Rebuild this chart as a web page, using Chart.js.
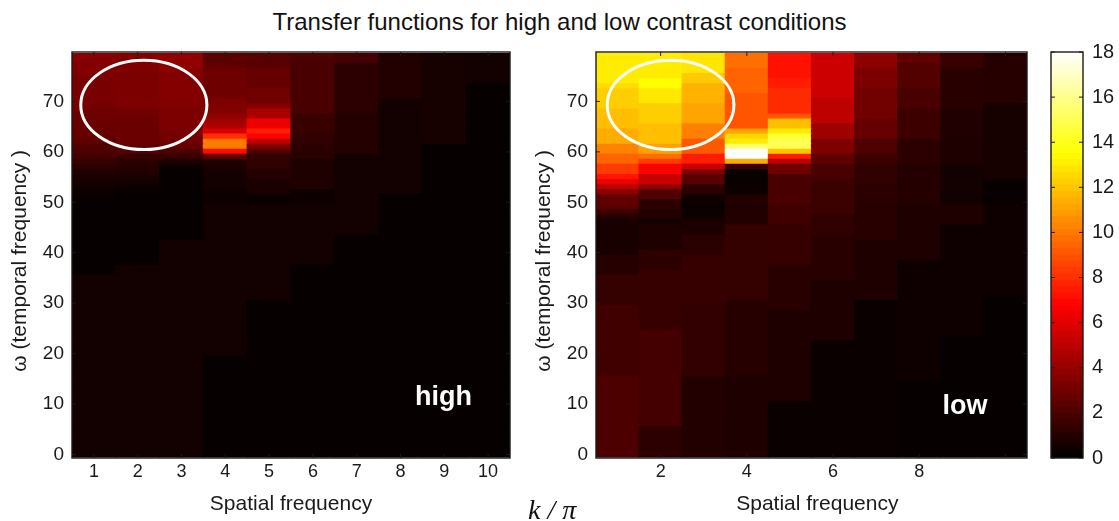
<!DOCTYPE html>
<html>
<head>
<meta charset="utf-8">
<title>Transfer functions</title>
<script src="https://cdn.jsdelivr.net/npm/chart.js@4"></script>
<style>
  body { margin: 0; background: #fff; overflow: hidden; width: 1119px; height: 521px; position: relative; }
  canvas { position: absolute; top: 0; }
  #titulo { position: absolute; top: 8px; left: 0; width: 1119px; text-align: center; font: 24px "Liberation Sans", sans-serif; color: #111; }
  #kpi { position: absolute; left: 528px; top: 494px; font: italic 28px "Liberation Serif", serif; color: #111; }
</style>
</head>
<body>
<div id="titulo">Transfer functions for high and low contrast conditions</div>
<canvas id="alto" width="525" height="521" style="left:0"></canvas>
<canvas id="bajo" width="512" height="521" style="left:525px"></canvas>
<canvas id="barra" width="82" height="521" style="left:1037px"></canvas>
<div id="kpi">k / π</div>
<script>
const categorias = ['1', '2', '3', '4', '5', '6', '7', '8', '9', '10'];
const ticksOmega = [0, 10, 20, 30, 40, 50, 60, 70];
const ticksBarra = [0, 2, 4, 6, 8, 10, 12, 14, 16, 18];
const ticksAltoX = [0, 1, 2, 3, 4, 5, 6, 7, 8, 9];
const etiquetasBajoX = [1, 3, 5, 7];
const ticksBajoX = [1, 3, 5, 7, 9];

// valores por columna, de omega 0 a omega 79 (un grupo por decena)
const alto1 = [.5,.5,.5,.5,.5,.5,.5,.5,.5,.5, .5,.5,.5,.5,.5,.5,.5,.5,.5,.5, .5,.5,.5,.5,.5,.5,.5,.5,.5,.5, .5,.5,.5,.5,.5,.5,.15,.15,.15,.15, .15,.15,.15,.15,.15,.15,.15,.15,.15,.15, .2,.3,.4,.5,.6,.7,.9,1.2,1.5,1.8, 2,2.2,2.5,2.7,2.7,2.8,2.8,2.9,2.9,3.1, 3.2,3.2,3.2,3.2,3.2,3.3,3.5,3.5,3.5,3.6];
const alto2 = [.5,.5,.5,.5,.5,.5,.5,.5,.5,.5, .5,.5,.5,.5,.5,.5,.5,.5,.5,.5, .5,.5,.5,.5,.5,.5,.5,.5,.5,.5, .5,.5,.5,.5,.5,.5,.5,.5,.15,.15, .15,.15,.15,.15,.15,.15,.15,.15,.15,.15, .15,.15,.2,.4,.5,.7,.9,1,1.2,1.5, 2.3,2.6,2.8,2.8,2.8,2.8,2.8,2.9,3,3.3, 3.3,3.3,3.3,3.3,3.3,3.3,3.4,3.4,3.4,3.5];
const alto3 = [.5,.5,.5,.5,.5,.5,.5,.5,.5,.5, .5,.5,.5,.5,.5,.5,.5,.5,.5,.5, .5,.5,.5,.5,.5,.5,.5,.5,.5,.5, .5,.5,.5,.5,.5,.5,.5,.5,.5,.5, .5,.5,.5,.15,.15,.15,.15,.15,.15,.15, .15,.15,.15,.15,.15,.15,.15,.4,.8,1.5, 2,2.7,2.9,3.1,3.2,3.3,3.3,3.3,3.3,3.4, 3.5,3.5,3.5,3.5,3.5,3.5,3.6,3.8,3.8,3.8];
const alto4 = [.15,.15,.15,.15,.15,.15,.15,.15,.15,.15, .15,.15,.15,.15,.15,.15,.15,.15,.15,.15, .5,.5,.5,.5,.5,.5,.5,.5,.5,.5, .5,.5,.5,.5,.5,.5,.5,.5,.5,.5, .5,.5,.5,.5,.5,.5,.5,.5,.5,.5, .4,.4,.4,.5,.5,.5,.6,.7,.9,2.6, 7,10,10,8,5.8,4.6,4.2,3.8,3.4,3.4, 3.3,3,2.9,2.9,2.9,2.9,2.8,2.6,2.4,2.4];
const alto5 = [.15,.15,.15,.15,.15,.15,.15,.15,.15,.15, .15,.15,.15,.15,.15,.15,.15,.15,.15,.15, .15,.15,.15,.15,.15,.15,.15,.15,.15,.15, .15,.5,.5,.5,.5,.5,.5,.5,.5,.5, .5,.5,.5,.5,.5,.5,.5,.5,.5,.5, .3,.3,.7,.7,.7,.95,.95,1.3,1.3,1.3, 2.1,3.4,5,6.8,7.5,6.3,6.3,4.5,4.5,3.5, 3,3,3,2.7,2.7,2.7,2.7,2.3,2.3,2.3];
const alto6 = [.15,.15,.15,.15,.15,.15,.15,.15,.15,.15, .15,.15,.15,.15,.15,.15,.15,.15,.15,.15, .15,.15,.15,.15,.15,.15,.15,.15,.15,.15, .15,.15,.15,.15,.15,.15,.15,.15,.5,.5, .5,.5,.5,.5,.5,.5,.5,.5,.5,.5, .4,.4,.4,.8,.8,.8,.8,.8,.8,1.1, 1.1,1.1,1.3,1.3,1.5,1.5,1.5,1.5,1.9,1.9, 1.9,1.9,1.9,1.9,1.9,1.9,1.9,1.9,1.9,2.1];
const alto7 = [.15,.15,.15,.15,.15,.15,.15,.15,.15,.15, .15,.15,.15,.15,.15,.15,.15,.15,.15,.15, .15,.15,.15,.15,.15,.15,.15,.15,.15,.15, .15,.15,.15,.15,.15,.15,.15,.15,.15,.15, .15,.15,.15,.15,.5,.5,.5,.5,.5,.5, .5,.5,.5,.5,.5,.5,.5,.5,.5,.5, .95,.95,.95,.95,.95,.95,.95,.95,1.2,1.2, 1.2,1.2,1.2,1.2,1.2,1.2,1.2,1.2,1.8,1.8];
const alto8 = [.15,.15,.15,.15,.15,.15,.15,.15,.15,.15, .15,.15,.15,.15,.15,.15,.15,.15,.15,.15, .15,.15,.15,.15,.15,.15,.15,.15,.15,.15, .15,.15,.15,.15,.15,.15,.15,.15,.15,.15, .15,.15,.15,.15,.15,.15,.15,.15,.15,.15, .15,.15,.5,.5,.5,.5,.5,.5,.5,.5, .5,.5,.5,.5,.5,.5,.5,.5,.5,.5, .5,.9,.9,.9,.9,.9,.9,.9,.9,.9];
const alto9 = [.15,.15,.15,.15,.15,.15,.15,.15,.15,.15, .15,.15,.15,.15,.15,.15,.15,.15,.15,.15, .15,.15,.15,.15,.15,.15,.15,.15,.15,.15, .15,.15,.15,.15,.15,.15,.15,.15,.15,.15, .15,.15,.15,.15,.15,.15,.15,.15,.15,.15, .15,.15,.15,.15,.15,.15,.15,.15,.15,.15, .15,.15,.6,.6,.6,.6,.6,.6,.6,.6, .6,.6,.6,.6,.6,.6,.6,.6,.6,.6];
const alto10 = [.15,.15,.15,.15,.15,.15,.15,.15,.15,.15, .15,.15,.15,.15,.15,.15,.15,.15,.15,.15, .15,.15,.15,.15,.15,.15,.15,.15,.15,.15, .15,.15,.15,.15,.15,.15,.15,.15,.15,.15, .15,.15,.15,.15,.15,.15,.15,.15,.15,.15, .15,.15,.15,.15,.15,.15,.15,.15,.15,.15, .15,.15,.15,.15,.15,.15,.15,.15,.15,.15, .15,.15,.15,.15,.5,.5,.5,.5,.5,.5];

const bajo1 = [2,2,2,2,2,2,2,2,2,2, 2,2,2,2,2,2,1.7,1.7,1.7,1.7, 1.7,1.7,1.7,1.7,1.7,1.7,1.7,1.7,1.7,1.7, 1.4,1.4,1.4,1.4,1.4,1.4,1,1,1,1, .65,.65,.65,.65,.65,.65,.65,1,1.6,2.4, 2.6,2.6,3.7,5,6.3,7.3,8.3,8.3,9.4,9.4, 10.2,10.2,11.3,11.3,11.3,11.8,11.8,11.8,11.8,12.2, 12.2,12.2,12.2,12.6,13,13,13,13,13,13];
const bajo2 = [1.2,1.2,1.2,1.2,1.2,1.2,1.8,1.8,1.8,1.8, 1.8,1.8,1.8,1.8,1.8,1.8,1.8,1.8,1.8,1.8, 1.8,1.8,1.8,1.8,1.8,1.45,1.45,1.45,1.45,1.45, 1.45,1.45,1.45,1.45,1.45,1.45,1.45,1.2,1.2,1.2, 1.2,.8,.8,.8,.8,.8,.5,.9,.9,1.1, 1.1,2.1,2.1,4,5.3,5.3,6.7,6.7,8.3,9.7, 11,11,11.8,11.8,11.8,11.8,12.2,12.2,12.2,12.2, 12.9,12.9,12.9,13.5,13.5,13,13,13,13,13];
const bajo3 = [.9,.9,.9,.9,.9,.9,.9,.9,.9,.9, .9,.9,.9,.9,.9,.9,1.35,1.35,1.35,1.35, 1.35,1.35,1.35,1.35,1.35,1.35,1.35,1.35,1.35,1.35, 1.45,1.45,1.45,1.45,1.45,1.45,1.45,1.45,1.45,1.45, 1.1,1.1,1.1,1.1,.75,.75,.75,.4,.4,.2, .4,.4,1.2,1.2,2.4,2.4,3.4,5.3,7.5,7.5, 9.1,9.1,9.1,10.1,10.1,10.1,11.1,11.1,11.1,11.1, 11.5,11.5,11.5,11.5,12.1,12.1,12.8,12.8,12.8,12.8];
const bajo4 = [.8,.8,.8,.8,.8,.8,.8,.8,.8,.8, .8,.8,.8,.8,.8,.8,1,1,1,1, 1,1,1,1,1,1,1,1,1,1, 1,1.4,1.4,1.4,1.4,1.4,1.4,1.4,1.4,1.4, 1.4,1.4,1.4,1.4,1.4,1.4,.9,.9,.9,.8, .9,.9,.35,.35,.25,.25,.25,1.6,11.3,18, 18,15.5,13,12.4,11,9,9,9,9,9, 9,9,9.4,9.4,9.4,9.4,9.4,9.7,9.7,9.7];
const bajo5 = [.3,.3,.3,.3,.3,.3,.3,.3,.3,.3, .3,.8,.8,.8,.8,.8,.8,.8,.8,.8, .8,.8,.8,.8,.8,.8,.8,.8,.8,1.05, 1.05,1.05,1.05,1.05,1.05,1.05,1.05,1.05,1.45,1.45, 1.45,1.45,1.45,1.45,1.45,1.45,1.7,1.7,1.7,1.7, 1.9,1.9,1.9,1.9,1.9,1.9,2.9,2.9,5,7.5, 12,15,15,14.4,13,11.8,11.8,9,7.9,7.9, 7.9,7.9,7.9,7.5,7.5,7.2,7.2,7.2,7.2,7.2];
const bajo6 = [.3,.3,.3,.3,.3,.3,.3,.3,.3,.3, .3,.3,.3,.3,.3,.3,.3,.3,.3,.3, .3,.3,.3,.8,.8,.8,.8,.8,.8,.8, .8,.8,.8,.8,.8,1.05,1.05,1.05,1.05,1.05, 1.05,1.05,1.05,1.05,1.3,1.3,1.3,1.3,1.55,1.55, 1.55,1.55,1.55,1.55,1.55,1.9,1.9,1.9,2.5,2.5, 3.4,3.4,3.4,4.2,4.2,4.2,5,5,5,5, 5,5.4,5.4,5.4,5.4,5.4,5.4,5.4,5.4,5.4];
const bajo7 = [.3,.3,.3,.3,.3,.3,.3,.3,.3,.3, .3,.3,.3,.3,.3,.3,.3,.3,.3,.3, .3,.3,.3,.3,.3,.3,.3,.3,.3,.3, .3,.8,.8,.8,.8,.8,.8,.8,.8,.8, .8,.8,.8,1.05,1.05,1.05,1.05,1.05,1.05,1.05, 1.2,1.2,1.2,1.2,1.3,1.3,1.3,1.3,1.6,1.6, 2.1,2.1,2.1,2.7,2.7,2.7,2.7,3,3,3, 3,3,3,3.3,3.3,3.3,3.3,3.7,3.7,3.7];
const bajo8 = [.15,.15,.15,.15,.15,.15,.15,.15,.15,.15, .15,.15,.15,.15,.15,.4,.4,.4,.4,.4, .4,.4,.4,.4,.4,.4,.4,.4,.4,.4, .4,.4,.4,.4,.4,.4,.4,.4,.4,.8, .8,.8,.8,.8,.8,.8,.8,.8,.8,.8, .95,.95,.95,.95,.95,.95,.95,.95,1.2,1.2, 1.2,1.2,1.2,1.6,1.6,1.6,1.6,1.6,1.6,1.9, 1.9,1.9,1.9,2.2,2.2,2.2,2.2,2.2,2.5,2.5];
const bajo9 = [.15,.15,.15,.15,.15,.15,.15,.15,.15,.15, .15,.15,.15,.15,.15,.15,.15,.15,.15,.15, .15,.15,.15,.15,.4,.4,.4,.4,.4,.4, .4,.4,.4,.4,.4,.4,.4,.4,.4,.4, .4,.4,.4,.4,.4,.4,.8,.8,.8,.8, .5,.5,.5,.5,.5,.5,.5,.5,.8,.8, .8,.8,.8,.85,.85,.85,.85,.85,.85,1.05, 1.05,1.05,1.05,1.05,1.05,1.05,1.05,1.5,1.5,1.5];
const bajo10 = [.15,.15,.15,.15,.15,.15,.15,.15,.15,.15, .15,.15,.15,.15,.15,.15,.15,.15,.15,.15, .15,.15,.15,.15,.15,.15,.15,.15,.15,.15, .15,.15,.4,.4,.4,.4,.4,.4,.4,.4, .4,.4,.4,.4,.4,.4,.4,.4,.4,.4, .2,.2,.2,.2,.2,.6,.6,.6,.6,.6, .6,.6,.6,.6,.6,.6,.6,.6,.6,.6, 1,1,1,1,1,1,1,1,1,1];

const columnasAlto = [alto1, alto2, alto3, alto4, alto5, alto6, alto7, alto8, alto9, alto10];
const columnasBajo = [bajo1, bajo2, bajo3, bajo4, bajo5, bajo6, bajo7, bajo8, bajo9, bajo10];

const FUENTE = '"Liberation Sans", sans-serif';
const NEGRO = '#1a1a1a';

// mapa de color "hot" de 0 a 18
function colorHot(v) {
  const c = x => Math.round(255 * Math.max(0, Math.min(1, x)));
  return `rgb(${c(v / 6.75)},${c((v - 6.75) / 6.75)},${c((v - 13.5) / 4.5)})`;
}

// marco y marcas hacia dentro, elipse y nota en coordenadas de los ejes
const marcoPlugin = {
  id: 'marco',
  afterDatasetsDraw(chart, args, opts) {
    const { ctx, chartArea: a, scales } = chart;
    ctx.save();
    ctx.strokeStyle = NEGRO;
    ctx.lineWidth = 1;
    ctx.beginPath();
    (opts.marcasX || []).forEach(v => {
      const x = scales.x.getPixelForValue(v);
      ctx.moveTo(x, a.top); ctx.lineTo(x, a.top + 4);
      ctx.moveTo(x, a.bottom); ctx.lineTo(x, a.bottom - 4);
    });
    (opts.marcasY || []).forEach(v => {
      const y = scales.y.getPixelForValue(v);
      ctx.moveTo(a.left, y); ctx.lineTo(a.left + 4, y);
      ctx.moveTo(a.right, y); ctx.lineTo(a.right - 4, y);
    });
    ctx.stroke();
    ctx.lineWidth = 1.4;
    ctx.strokeRect(a.left, a.top, a.right - a.left, a.bottom - a.top);
    if (opts.elipse) {
      const cx = scales.x.getPixelForValue(opts.elipse.col);
      const cy = scales.y.getPixelForValue(opts.elipse.omega);
      const rx = scales.x.getPixelForValue(opts.elipse.col + opts.elipse.dCol) - cx;
      const ry = cy - scales.y.getPixelForValue(opts.elipse.omega + opts.elipse.dOmega);
      ctx.strokeStyle = '#fff';
      ctx.lineWidth = 3;
      ctx.beginPath();
      ctx.ellipse(cx, cy, rx, ry, 0, 0, Math.PI * 2);
      ctx.stroke();
    }
    if (opts.nota) {
      ctx.fillStyle = '#fff';
      ctx.font = 'bold 27px ' + FUENTE;
      ctx.textAlign = 'center';
      ctx.textBaseline = 'middle';
      ctx.fillText(opts.nota.texto, scales.x.getPixelForValue(opts.nota.col), scales.y.getPixelForValue(opts.nota.omega));
    }
    ctx.restore();
  }
};

function crearPanel(id, columnas, opciones) {
  const filas = columnas[0].map((_, i) => ({
    data: columnas.map(() => [i - 0.5, i + 0.5]),
    backgroundColor: columnas.map(c => colorHot(c[i])),
    grouped: false,
    barPercentage: 1,
    categoryPercentage: 1,
    inflateAmount: 0.6
  }));
  return new Chart(document.getElementById(id), {
    type: 'bar',
    data: { labels: categorias, datasets: filas },
    plugins: [marcoPlugin],
    options: {
      responsive: false,
      animation: false,
      layout: { padding: { top: 52, right: opciones.derecha } },
      plugins: {
        legend: { display: false },
        tooltip: { enabled: false },
        marco: { marcasX: opciones.marcasX, marcasY: ticksOmega, elipse: opciones.elipse, nota: opciones.nota }
      },
      scales: {
        x: {
          type: 'category',
          offset: true,
          grid: { display: false, drawTicks: false },
          border: { display: false },
          afterFit: s => { s.height = 63; },
          ticks: {
            autoSkip: false, maxRotation: 0, padding: 3, color: NEGRO,
            font: { family: FUENTE, size: 18 },
            callback: (v, i) => opciones.etiquetasX.includes(i) ? categorias[i] : ''
          },
          title: { display: true, text: opciones.tituloX, color: NEGRO, font: { family: FUENTE, size: 21 }, padding: { top: 0, bottom: 4.4 } }
        },
        y: {
          min: -0.7,
          max: 79.8,
          grid: { display: false, drawTicks: false },
          border: { display: false },
          afterFit: s => { s.width = opciones.izquierda; },
          afterBuildTicks: s => { s.ticks = ticksOmega.map(value => ({ value })); },
          ticks: { padding: 8, color: NEGRO, font: { family: FUENTE, size: 19 } },
          title: { display: true, text: 'ω (temporal frequency )  ', color: NEGRO, font: { family: FUENTE, size: 21 }, padding: { top: opciones.margenY, bottom: opciones.margenY } }
        }
      }
    }
  });
}

crearPanel('alto', columnasAlto, {
  izquierda: 72, derecha: 15, margenY: 7.5,
  tituloX: 'Spatial frequency',
  marcasX: ticksAltoX, etiquetasX: ticksAltoX,
  elipse: { col: 1.14, omega: 69.3, dCol: 1.44, dOmega: 8.85 },
  nota: { texto: 'high', col: 7.98, omega: 11.3 }
});

crearPanel('bajo', columnasBajo, {
  izquierda: 71, derecha: 10, margenY: 6.5,
  tituloX: '  Spatial frequency',
  marcasX: ticksBajoX, etiquetasX: etiquetasBajoX,
  elipse: { col: 1.23, omega: 69.3, dCol: 1.47, dOmega: 8.85 },
  nota: { texto: 'low', col: 8.06, omega: 9.6 }
});

// barra de color: 64 niveles
const nivelesBarra = Array.from({ length: 64 }, (_, k) => k);
new Chart(document.getElementById('barra'), {
  type: 'bar',
  data: {
    labels: ['c'],
    datasets: nivelesBarra.map(k => ({
      data: [[k * 18 / 64, (k + 1) * 18 / 64]],
      backgroundColor: colorHot((k + 0.5) * 18 / 64),
      grouped: false,
      barPercentage: 1,
      categoryPercentage: 1,
      inflateAmount: 0.6
    }))
  },
  plugins: [marcoPlugin],
  options: {
    responsive: false,
    animation: false,
    layout: { padding: { top: 52, bottom: 63, left: 14 } },
    plugins: {
      legend: { display: false },
      tooltip: { enabled: false },
      marco: { marcasY: ticksBarra }
    },
    scales: {
      x: { display: false },
      y: {
        position: 'right',
        min: 0,
        max: 18,
        grid: { display: false, drawTicks: false },
        border: { display: false },
        afterFit: s => { s.width = 36; },
        afterBuildTicks: s => { s.ticks = ticksBarra.map(value => ({ value })); },
        ticks: { padding: 9, color: NEGRO, font: { family: FUENTE, size: 20 } }
      }
    }
  }
});
</script>
</body>
</html>
